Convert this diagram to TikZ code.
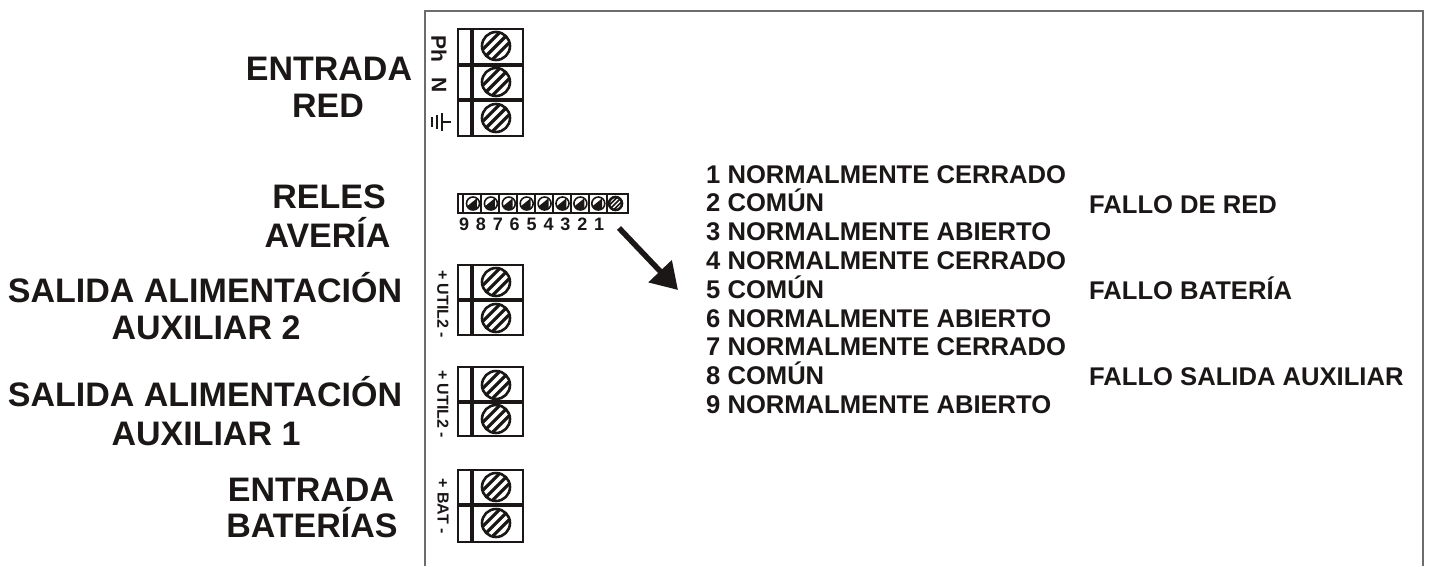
\documentclass[tikz,border=0pt]{standalone}
\usepackage{fontspec}
\setmainfont{Liberation Sans}
\usetikzlibrary{arrows.meta}
\definecolor{ink}{HTML}{1A1716}
\tikzset{
  big/.style={font=\fontsize{34}{38}\selectfont\bfseries,inner sep=0pt,anchor=base,text=ink},
  mid/.style={font=\fontsize{25.6}{27}\selectfont\bfseries,anchor=base west,inner sep=0pt,text=ink},
  vlab/.style={font=\fontsize{16}{16}\selectfont\bfseries,rotate=-90,inner sep=0pt,text=ink},
  digit/.style={font=\fontsize{18}{18}\selectfont\bfseries,inner sep=0pt,anchor=base,text=ink},
  box/.style={draw=ink,line width=2.6pt},
  sep/.style={draw=ink,line width=3.6pt},
}
\newcommand{\screw}[4][3.2pt]{% stripe width; x y r
  \begin{scope}
    \clip (#2,#3) circle (#4);
    \foreach \d in {-0.5,0,0.5}{
      \draw[ink,line width=#1] ({#2+(\d*#4)*0.707-#4*0.707},{#3+(\d*#4)*0.707+#4*0.707}) -- ({#2+(\d*#4)*0.707+#4*0.707},{#3+(\d*#4)*0.707-#4*0.707});
    }
  \end{scope}
  \draw[ink,line width=2.6pt] (#2,#3) circle (#4);}
\newcommand{\halfscrew}[3]{
  \draw[ink,line width=1.6pt] (#1,#2) circle (#3);
  \fill[ink] (#1-#3,#2+#3*0.5) -- (#1+#3*0.6,#2-#3*0.8) -- (#1+#3*0.6,#2+#3*0.9) -- (#1-#3*0.4,#2+#3*0.9) -- cycle;
}
\newcommand{\block}[3]{% top, bottom, list of dividers
  \draw[box] (458,#1) rectangle (523,#2);
  \draw[sep] (472,#1) -- (472,#2);
  \foreach \yy in {#3}{\draw[sep] (458,\yy) -- (523,\yy);}
}
\begin{document}
\begin{tikzpicture}[x=1pt,y=-1pt]
\useasboundingbox (0,0) rectangle (1430,566);
\draw[draw=gray!85!black,line width=1.4pt] (425,566) -- (425,11) -- (1423,11) -- (1423,566);

% large labels
\node[big] (a1) at (329,80) {ENTRADA};
\node[big] (a2) at (328,117) {RED};
\node[big] (b1) at (329,208) {RELES};
\node[big] (b2) at (327.5,247) {AVERÍA};
\node[big] (c1) at (205,302) {SALIDA ALIMENTACIÓN};
\node[big] (c2) at (206,339) {AUXILIAR 2};
\node[big] (d1) at (205,406) {SALIDA ALIMENTACIÓN};
\node[big] (d2) at (206,445) {AUXILIAR 1};
\node[big] (e1) at (311,501) {ENTRADA};
\node[big] (e2) at (312,537) {BATERÍAS};

% terminal blocks
\block{29}{136}{65,100}
\screw{496}{46}{14}\screw{496}{82}{14}\screw{496}{118}{14}
\block{265}{335}{300}
\screw{496}{282}{14}\screw{496}{318}{14}
\block{367}{436}{402}
\screw{496}{385}{14}\screw{496}{419}{14}
\block{470}{542}{505}
\screw{496}{487}{14}\screw{496}{523}{14}

% labels by the blocks
\node[vlab,font=\fontsize{21}{21}\selectfont\bfseries] (ph) at (439,49) {Ph};
\node[vlab,font=\fontsize{21}{21}\selectfont\bfseries] (n) at (439,85) {N};
\draw[ink,line width=1.1pt] (442,122) -- (451,122) (442,113) -- (442,131) (437,115) -- (437,129) (432,117) -- (432,127);
\node[vlab] (u2) at (443,304) {+ UTIL2 -};
\node[vlab] (u1) at (443,404) {+ UTIL2 -};
\node[vlab] (bat) at (443,506) {+ BAT -};

% small strip
\draw[ink,line width=2.4pt] (458,194) rectangle (628,213);
\foreach \i in {0,...,8}{\draw[ink,line width=2pt] ({463+\i*18},194) -- ({463+\i*18},213);}
\foreach \i in {0,...,7}{\halfscrew{473+\i*17.9}{203.5}{6.5}}
\screw[1.6pt]{615.5}{203.5}{6.5}

\foreach \dg [count=\i from 0] in {9,8,7,6,5,4,3,2,1}{
  \node[digit] (dg\i) at ({464+\i*16.9},230) {\dg};
}

% arrow
\coordinate (s) at (619,228);
\coordinate (t) at (678,290);
\draw[ink,line width=5.5pt,-{Triangle[length=26pt,width=31pt]}] (s) -- (t);

% list
\foreach \t [count=\i from 0] in {1 NORMALMENTE CERRADO,2 COMÚN,3 NORMALMENTE ABIERTO,4 NORMALMENTE CERRADO,5 COMÚN,6 NORMALMENTE ABIERTO,7 NORMALMENTE CERRADO,8 COMÚN,9 NORMALMENTE ABIERTO}{
  \node[mid] (l\i) at (706,{183+\i*28.8}) {\t};
}
\node[mid] (f1) at (1089,213) {FALLO DE RED};
\node[mid] (f2) at (1089,299) {FALLO BATERÍA};
\node[mid] (f3) at (1089,385) {FALLO SALIDA AUXILIAR};
\end{tikzpicture}
\end{document}
